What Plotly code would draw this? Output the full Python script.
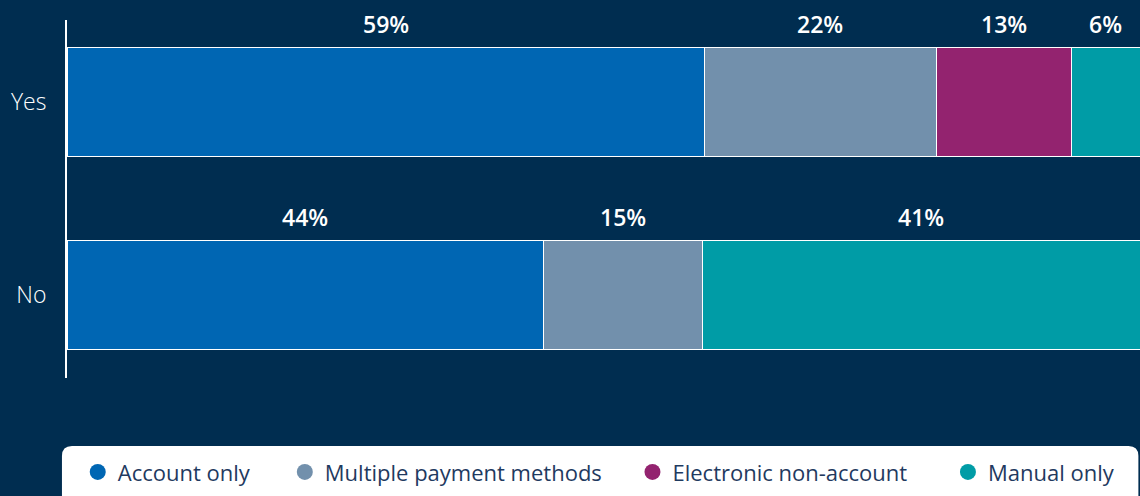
import plotly.graph_objects as go

categories = ["No", "Yes"]
series_names = ["Account only", "Multiple payment methods", "Electronic non-account", "Manual only"]
account_only = [44.4, 59.4]
multiple_methods = [14.8, 21.6]
electronic_non_account = [0.0, 12.6]
manual_only = [40.8, 6.4]

colors = ["#0066B3", "#7290AC", "#93236F", "#009CA6"]
BG = "#002D50"
FONT = "Open Sans"
legend_x = [0.010, 0.203, 0.527, 0.821]

series = [account_only, multiple_methods, electronic_non_account, manual_only]

fig = go.Figure()
for name, vals, col in zip(series_names, series, colors):
    fig.add_trace(go.Bar(
        y=categories, x=vals, orientation="h", name=name,
        marker=dict(color=col, line=dict(color="white", width=1)),
        width=0.565, showlegend=False, hoverinfo="x+name",
    ))

legend_layout = {}
for i, (name, col, lx) in enumerate(zip(series_names, colors, legend_x)):
    key = "legend" if i == 0 else f"legend{i+1}"
    fig.add_trace(go.Scatter(
        x=[None], y=[None], mode="markers", name=name,
        marker=dict(color=col, size=22, symbol="circle"),
        showlegend=True, legend=key,
    ))
    legend_layout[key] = dict(
        orientation="h", x=lx, xanchor="left", y=-0.263, yanchor="middle",
        bgcolor="rgba(0,0,0,0)", font=dict(family=FONT, size=22, color="#1F3A5F"),
        itemclick=False, itemdoubleclick=False,
    )

# value labels above each segment
annotations = []
for ci, cat in enumerate(categories):
    start = 0.0
    for vals in series:
        v = vals[ci]
        if v > 0:
            annotations.append(dict(
                x=start + v / 2, y=cat, xref="x", yref="y",
                text=f"{round(v)}%", showarrow=False, yshift=78,
                font=dict(family=FONT, size=23, color="white", weight=600),
            ))
        start += v

# rounded legend box (paper coords)
x0, x1, y0, y1 = -0.0047, 0.9985, -0.369, -0.19
rx, ry = 0.0093, 0.028
path = (f"M {x0+rx},{y1} L {x1-rx},{y1} Q {x1},{y1} {x1},{y1-ry} "
        f"L {x1},{y0+ry} Q {x1},{y0} {x1-rx},{y0} L {x0+rx},{y0} "
        f"Q {x0},{y0} {x0},{y0+ry} L {x0},{y1-ry} Q {x0},{y1} {x0+rx},{y1} Z")

fig.update_layout(
    width=1140, height=496,
    barmode="stack",
    paper_bgcolor=BG, plot_bgcolor=BG,
    margin=dict(l=67, r=0, t=20, b=118),
    font=dict(family=FONT, color="white", size=20),
    xaxis=dict(range=[0, 100], visible=False, showgrid=False, zeroline=False),
    yaxis=dict(range=[-0.43, 1.425], showline=True, linecolor="white", linewidth=2,
               showgrid=False, zeroline=False, ticks="outside", ticklen=14,
               tickcolor="rgba(0,0,0,0)",
               tickfont=dict(family=FONT, size=23, color="white", weight=300)),
    showlegend=True,
    shapes=[dict(type="path", xref="paper", yref="paper", path=path,
                 fillcolor="white", line=dict(width=0), layer="below")],
    annotations=annotations,
    **legend_layout,
)

fig.write_html(
    "out.html",
    config={"displayModeBar": False},
    post_script="document.body.style.margin='0';document.body.style.overflow='hidden';"
                "document.body.style.background='" + BG + "';",
)
